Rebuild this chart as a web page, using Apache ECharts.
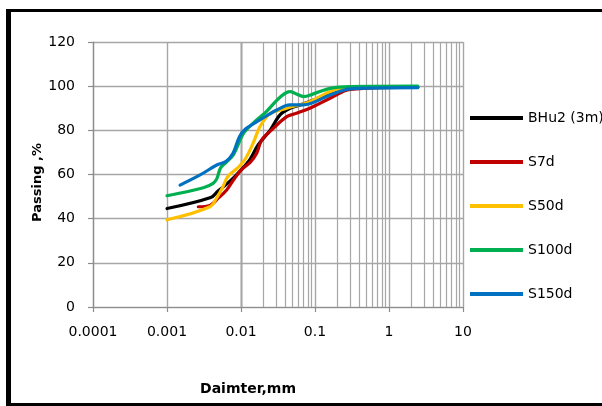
<!DOCTYPE html>
<html>
<head>
<meta charset="utf-8">
<style>
  html, body { margin: 0; padding: 0; background: #fff; }
  #chart { width: 602px; height: 406px; }
</style>
<script src="https://cdn.jsdelivr.net/npm/echarts@6/dist/echarts.min.js"></script>
</head>
<body>
<div id="chart"></div>
<script>
// Grain-size distribution: percent passing vs particle diameter (mm)
const seriesNames = ['BHu2 (3m)', 'S7d', 'S50d', 'S100d', 'S150d'];
const seriesColors = ['#000000', '#c00000', '#ffc000', '#00b050', '#0070c0'];

const bhu2Diam = [0.001, 0.0039, 0.0049, 0.0071, 0.01, 0.0133, 0.0171, 0.0247, 0.0337, 0.0459, 0.0627, 0.1, 0.16, 0.25, 0.4, 2.45];
const bhu2Pass = [44.6, 49.6, 52.5, 57, 62, 67, 73.5, 80, 87, 90, 91.5, 94, 96.8, 98.5, 99.3, 99.5];

const s7dDiam = [0.00265, 0.0038, 0.005, 0.0064, 0.0079, 0.01, 0.0133, 0.0163, 0.019, 0.026, 0.0415, 0.056, 0.085, 0.16, 0.3, 2.45];
const s7dPass = [45.4, 46, 49.5, 53, 57.5, 62, 65.5, 69.6, 75.6, 80.2, 86.2, 87.7, 90, 94.5, 98.5, 99.5];

const s50dDiam = [0.001, 0.0038, 0.0048, 0.0058, 0.0066, 0.009, 0.0114, 0.0145, 0.018, 0.0247, 0.0415, 0.085, 0.16, 0.3, 2.45];
const s50dPass = [39.5, 45.4, 50, 55, 59, 63, 67, 74, 81.6, 87.5, 90, 93, 97.5, 99.3, 99.5];

const s100dDiam = [0.001, 0.0031, 0.0042, 0.0047, 0.0053, 0.0063, 0.0079, 0.0108, 0.0146, 0.022, 0.0337, 0.0459, 0.056, 0.07, 0.095, 0.16, 0.3, 2.45];
const s100dPass = [50.4, 54, 56, 58, 63, 65.5, 69, 78.6, 83.2, 88.5, 95, 97.5, 96.5, 95.3, 96.5, 99, 99.8, 100];

const s150dDiam = [0.0015, 0.0028, 0.0047, 0.0063, 0.0078, 0.0095, 0.0114, 0.018, 0.0304, 0.0459, 0.0695, 0.16, 0.3, 2.45];
const s150dPass = [55.2, 59.8, 64.3, 66, 69.6, 77, 80.5, 84.7, 89.2, 91.5, 91.5, 96, 98.8, 99.3];

const xTickLabels = ['0.0001', '0.001', '0.01', '0.1', '1', '10'];
const yTickLabels = ['0', '20', '40', '60', '80', '100', '120'];
const xTitle = 'Daimter,mm';
const yTitle = 'Passing ,%';

const diams = [bhu2Diam, s7dDiam, s50dDiam, s100dDiam, s150dDiam];
const passes = [bhu2Pass, s7dPass, s50dPass, s100dPass, s150dPass];

// minor vertical grid lines: 2..9 within each decade
const minorX = [];
for (let k = -4; k < 1; k++) {
  for (let m = 2; m <= 9; m++) minorX.push(+(m * Math.pow(10, k)).toPrecision(3));
}

const FONT = 'DejaVu Sans';
const gridColor = '#a6a6a6';

const series = seriesNames.map((name, i) => ({
  name: name,
  type: 'line',
  data: diams[i].map((d, j) => [d, passes[i][j]]),
  smooth: 0.35,
  showSymbol: false,
  symbol: 'none',
  lineStyle: { color: seriesColors[i], width: 3.2, cap: 'round', join: 'round' },
  itemStyle: { color: seriesColors[i] },
  z: 5
}));

series.push({
  name: 'minorGrid',
  type: 'line',
  data: [],
  silent: true,
  z: 1,
  markLine: {
    silent: true,
    symbol: ['none', 'none'],
    label: { show: false },
    lineStyle: { color: gridColor, width: 1.2, type: 'solid' },
    emphasis: { disabled: true },
    animation: false,
    data: minorX.map(v => ({ xAxis: v }))
  }
});

const chart = echarts.init(document.getElementById('chart'), null, { renderer: 'canvas' });
chart.setOption({
  animation: false,
  backgroundColor: '#ffffff',
  grid: { left: 93, right: 139, top: 42, bottom: 99, containLabel: false },
  xAxis: {
    type: 'log',
    logBase: 10,
    min: 0.0001,
    max: 10,
    axisLine: { show: true, lineStyle: { color: '#8c8c8c', width: 1.2 } },
    axisTick: { show: true, length: 5, lineStyle: { color: '#8c8c8c', width: 1.2 } },
    axisLabel: {
      fontFamily: FONT, fontSize: 14, color: '#000', margin: 18,
      formatter: (v, i) => xTickLabels[i]
    },
    splitLine: { show: true, lineStyle: { color: gridColor, width: 1.4 } },
    minorTick: { show: false },
    minorSplitLine: { show: false }
  },
  yAxis: {
    type: 'value',
    min: 0,
    max: 120,
    interval: 20,
    axisLine: { show: true, lineStyle: { color: '#8c8c8c', width: 1.2 } },
    axisTick: { show: true, length: 5, lineStyle: { color: '#8c8c8c', width: 1.2 } },
    axisLabel: {
      fontFamily: FONT, fontSize: 14, color: '#000', margin: 18,
      formatter: (v, i) => yTickLabels[i]
    },
    splitLine: { show: true, lineStyle: { color: gridColor, width: 1.4 } }
  },
  legend: {
    orient: 'vertical',
    left: 465,
    top: 103,
    data: seriesNames,
    icon: 'rect',
    itemWidth: 53,
    itemHeight: 4,
    itemGap: 24,
    selectedMode: false,
    textStyle: { fontFamily: FONT, fontSize: 14, color: '#000', lineHeight: 20 }
  },
  graphic: [
    {
      type: 'text', x: 248, y: 389, z: 50,
      style: { text: xTitle, fontFamily: FONT, fontSize: 14, fontWeight: 'bold', fill: '#000', align: 'center', verticalAlign: 'middle' }
    },
    {
      type: 'text', x: 38, y: 182.5, rotation: Math.PI / 2, z: 50,
      style: { text: yTitle, fontFamily: FONT, fontSize: 13, fontWeight: 'bold', fill: '#000', align: 'center', verticalAlign: 'middle' }
    },
    { type: 'line', shape: { x1: 8.5, y1: 10.5, x2: 8.5, y2: 404.5 }, style: { stroke: '#000', lineWidth: 5 }, z: 100 },
    { type: 'line', shape: { x1: 6, y1: 10.5, x2: 610, y2: 10.5 }, style: { stroke: '#000', lineWidth: 3 }, z: 100 },
    { type: 'line', shape: { x1: 6, y1: 404.5, x2: 610, y2: 404.5 }, style: { stroke: '#000', lineWidth: 3 }, z: 100 }
  ],
  series: series
});
</script>
</body>
</html>
